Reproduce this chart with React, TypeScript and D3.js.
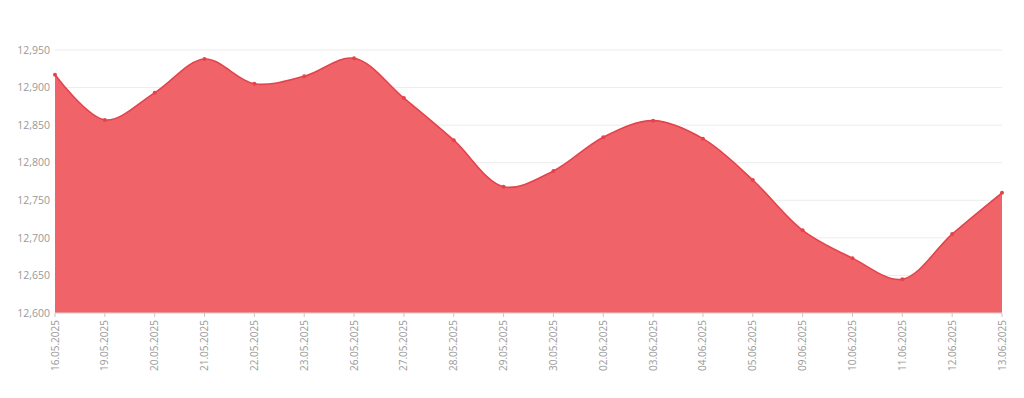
import React from "react";
import * as d3 from "d3";

const dates = ["16.05.2025","19.05.2025","20.05.2025","21.05.2025","22.05.2025","23.05.2025","26.05.2025","27.05.2025","28.05.2025","29.05.2025","30.05.2025","02.06.2025","03.06.2025","04.06.2025","05.06.2025","09.06.2025","10.06.2025","11.06.2025","12.06.2025","13.06.2025"];
const values = [12917,12857,12893,12938,12905,12915,12939,12886,12830,12768,12789,12834,12856,12832,12777,12710,12673,12645,12705,12760];
const yTicks = [12600,12650,12700,12750,12800,12850,12900,12950];

const W = 1024, H = 398;
const left = 55, right = 1002, top = 50, bottom = 313;

export default function App() {
  const x = d3.scalePoint<string>().domain(dates).range([left, right]);
  const y = d3.scaleLinear().domain([12600, 12950]).range([bottom, top]);
  const curve = d3.curveCatmullRom.alpha(0.5);
  const area = d3.area<number>().x((_, i) => x(dates[i])!).y0(bottom).y1(d => y(d)).curve(curve);
  const line = d3.line<number>().x((_, i) => x(dates[i])!).y(d => y(d)).curve(curve);
  return (
    <svg width={W} height={H} style={{ position: "absolute", left: 0, top: 0, fontFamily: "'Open Sans', sans-serif" }}>
      <rect width={W} height={H} fill="#fff" />
      {yTicks.map(t => (
        <g key={t}>
          <line x1={left} x2={right} y1={y(t)} y2={y(t)} stroke="#ececec" strokeWidth={1} />
          <text x={50} y={y(t)} dy="0.35em" textAnchor="end" fontSize={10.5} fill="#999">{d3.format(",")(t)}</text>
        </g>
      ))}
      <path d={area(values)!} fill="#f06469" />
      <path d={line(values)!} fill="none" stroke="#e3434b" strokeWidth={1.6} />
      {values.map((v, i) => (
        <circle key={i} cx={x(dates[i])} cy={y(v)} r={2} fill="#e3434b" />
      ))}
      <line x1={left} x2={right} y1={bottom} y2={bottom} stroke="#d8d8d8" />
      {dates.map(d => (
        <g key={d} transform={`translate(${x(d)},${bottom})`}>
          <line y1={0} y2={4} stroke="#c8c8c8" />
          <text transform="rotate(-90)" x={-7} dy="0.35em" textAnchor="end" fontSize={10} fill="#999">{d}</text>
        </g>
      ))}
    </svg>
  );
}
